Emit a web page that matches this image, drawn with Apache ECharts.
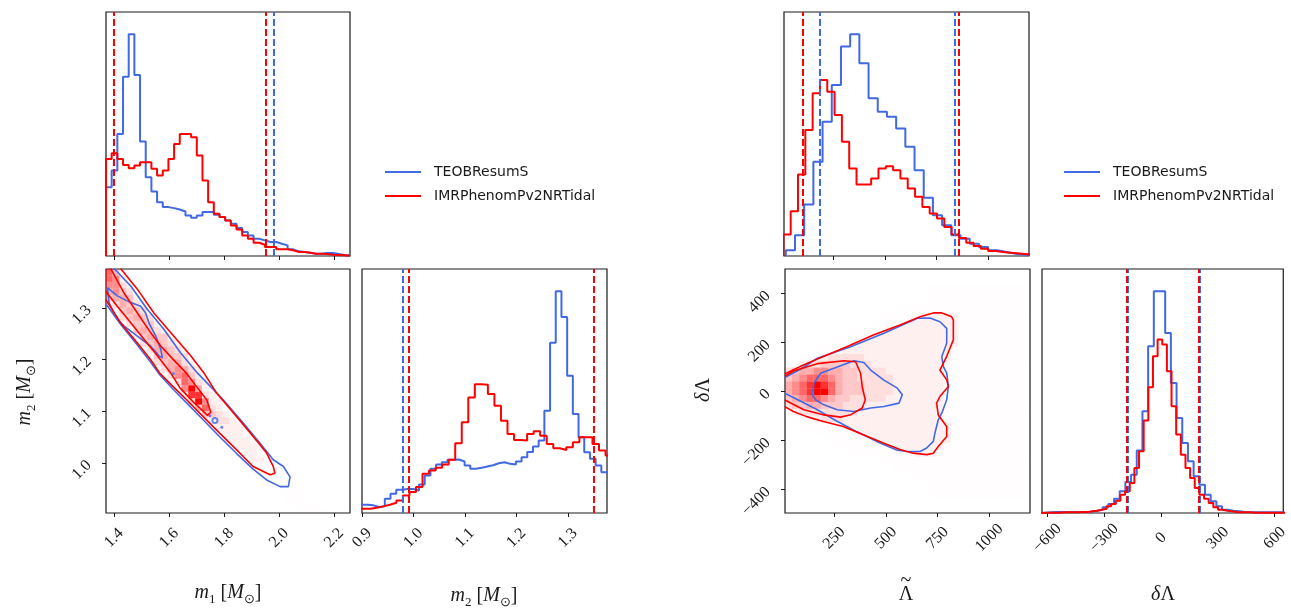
<!DOCTYPE html>
<html><head><meta charset="utf-8">
<script src="https://cdn.jsdelivr.net/npm/echarts@6/dist/echarts.min.js"></script>
<style>html,body{margin:0;padding:0;background:#fff}#c{width:1291px;height:608px}</style>
</head><body><div id="c"></div>
<script>
// ================= DATA =================
const seriesNames = ['TEOBResumS', 'IMRPhenomPv2NRTidal'];

// axis ranges and ticks
const m1Range = [1.371, 2.258];
const m2RangeHist = [0.9, 1.376];
const m2Range2D = [0.903, 1.375];
const lamRange = [11.4, 1197];
const dLamRange2D = [-495, 500];
const dLamRangeHist = [-628, 645];
const m1Ticks = [1.4, 1.6, 1.8, 2.0, 2.2];
const m2TicksHist = [0.9, 1.0, 1.1, 1.2, 1.3];
const m2Ticks2D = [1.0, 1.1, 1.2, 1.3];
const lamTicks = [250, 500, 750, 1000];
const dLamTicks2D = [-400, -200, 0, 200, 400];
const dLamTicksHist = [-600, -300, 0, 300, 600];

// m1 histograms
const m1BinStart = 1.371, m1BinWidth = 0.02063;
const m1CountsTEOB = [207,257,367,539,667,544,344,237,194,162,147,144,140,134,122,115,122,132,132,124,117,107,97,84,72,62,52,47,42,42,37,32,20,14,12,10,7,7,9,9,6,3,2];
const m1CountsIMR = [292,309,292,274,264,272,282,282,262,242,257,292,337,367,367,357,302,227,162,127,117,107,92,80,62,52,40,34,27,27,20,20,17,12,12,10,7,7,6,4,3,2,1];
const m1QuantTEOB = [1.400, 1.982];
const m1QuantIMR = [1.397, 1.945];

// m2 histograms
const m2BinStartTEOB = 0.889, m2BinWidthTEOB = 0.01107;
const m2CountsTEOB = [25,25,23,18,20,43,58,70,72,72,68,86,113,133,146,153,160,161,155,143,133,136,140,144,150,153,148,146,155,168,184,200,218,308,513,668,590,413,298,228,183,163,143,123,123];
const m2BinStartIMR = 0.8906, m2BinWidthIMR = 0.0127;
const m2CountsIMR = [13,13,16,20,25,31,38,53,63,78,118,128,136,146,160,210,273,348,388,386,358,323,278,238,220,218,238,246,233,208,195,190,198,213,228,228,208,188,173];
const m2QuantTEOB = [0.977, 1.349];
const m2QuantIMR = [0.9945, 1.353];

// Lambda-tilde histograms
const lamBinStartTEOB = 20.1, lamBinWidthTEOB = 44.5;
const lamCountsTEOB = [17,62,154,282,402,512,627,664,577,472,432,417,382,327,257,174,122,92,62,52,37,27,17,12,7,4,3];
const lamBinStartIMR = 8.4, lamBinWidthIMR = 35.4;
const lamCountsIMR = [64,134,244,377,487,527,492,422,342,262,214,214,232,262,269,257,232,202,177,147,127,112,87,64,54,40,30,22,15,12,10,8,6,4];
const lamQuantTEOB = [184, 839];
const lamQuantIMR = [100, 858];

// delta-Lambda histograms
const dLamBinStartTEOB = -638, dLamBinWidthTEOB = 30;
const dLamCountsTEOB = [1,2,3,3,3,3,3,3,4,7,10,17,27,43,65,93,115,187,305,500,665,665,540,390,285,210,155,110,85,55,35,20,10,7,5,3,2,2,2,2,2,2,2];
const dLamBinStartIMR = -630.5, dLamBinWidthIMR = 24.5;
const dLamCountsIMR = [1,1,1,1,2,2,2,2,3,3,5,7,10,13,20,27,37,55,65,90,135,185,277,377,470,520,505,425,320,235,175,135,105,75,55,43,30,17,10,7,5,3,2,2,2,1,1,1,1,1,1,1,1];
const dLamQuantTEOB = [-175, 205];
const dLamQuantIMR = [-181, 200];

// 2D density (IMRPhenomPv2NRTidal), intensity levels 0..9
const levelAlpha = [0, 0.008, 0.06, 0.13, 0.22, 0.32, 0.45, 0.6, 0.8, 1];
const leftCellM1Start = 1.37, leftCellM1Width = 0.025, leftCellM2Start = 0.90, leftCellM2Height = 0.0125;
const leftDensityCols = [
 [32,"245677"],[31,"1356664"],[29,"134554321"],[28,"134544321"],[26,"124454321"],
 [25,"134544321"],[24,"13454431"],[22,"134554321"],[21,"134554421"],[20,"135544321"],
 [19,"136654321"],[18,"267753321"],[17,"38964321"],[15,"149853221"],[14,"14763221"],
 [13,"1243221"],[12,"1233221"],[11,"1223211"],[10,"1222211"],[9,"1222211"],
 [8,"122211"],[7,"122211"],[6,"112111"],[5,"11111"],[4,"11111"],[3,"11111"],
 [2,"1111"],[1,"1111"],[0,"111"],[0,"11"],[0,"11"],[0,"1"],[0,"1"]
];
const rightCellLamStart = 10, rightCellLamWidth = 35, rightCellDLStart = -490, rightCellDLHeight = 28, rightRowStart = 2;
const rightDensityRows = [
 "0000000000000000000011111111111111",
 "0000000000000000000011111111111111",
 "0000000000000000000011111111111111",
 "0000000000000000011111111111111111",
 "0000000000000001111111111111111111",
 "0000000000000111111111111111111111",
 "0000000000111111112221111111111111",
 "0000000011111112222222111111111111",
 "0000001111112222222222211111111111",
 "0000111111222222222222211111111111",
 "0011111122222222222222211111111111",
 "0111233322222222222222111111111111",
 "1233333333222222222222111111111111",
 "3445544433322222222222111111111111",
 "4567765443333322222222111111111111",
 "5678997544433332222222111111111111",
 "5678987544433332222222111111111111",
 "4567776544333332222222111111111111",
 "3455665544333322222222111111111111",
 "1123344443332222222222111111111111",
 "0011123333322222222222211111111111",
 "0000111122222222222222211111111111",
 "0000001111222222222222221111111111",
 "0000000011112222222222221111111111",
 "0000000000111122222222221111111111",
 "0000000000001111122222221111111111",
 "0000000000000011111222221111111111",
 "0000000000000000111111111111111111",
 "0000000000000000000011111111111111",
 "0000000000000000000011111111111111",
 "0000000000000000000011111111111111"
];

// 2D contours
const leftContourIMROuter = [[1.424,1.376],[1.485,1.336],[1.545,1.290],[1.606,1.252],[1.679,1.207],[1.727,1.174],[1.773,1.135],[1.846,1.089],[1.906,1.051],[1.955,1.019],[1.979,0.993],[1.985,0.980],[1.967,0.977],[1.906,0.993],[1.846,1.025],[1.785,1.057],[1.725,1.089],[1.664,1.122],[1.616,1.147],[1.567,1.173],[1.533,1.200],[1.485,1.232],[1.424,1.271],[1.370,1.316]];
const leftContourIMRInner = [[1.388,1.376],[1.436,1.329],[1.485,1.290],[1.533,1.252],[1.570,1.226],[1.610,1.203],[1.664,1.173],[1.701,1.147],[1.737,1.122],[1.752,1.098],[1.740,1.092],[1.688,1.118],[1.640,1.145],[1.606,1.174],[1.558,1.207],[1.509,1.239],[1.461,1.271],[1.412,1.303],[1.370,1.332]];
const leftContourTEOBOuter = [[1.400,1.376],[1.461,1.342],[1.521,1.297],[1.582,1.258],[1.642,1.213],[1.703,1.174],[1.797,1.122],[1.870,1.077],[1.931,1.038],[1.979,1.006],[2.016,0.993],[2.040,0.973],[2.034,0.954],[2.004,0.954],[1.955,0.967],[1.906,0.988],[1.846,1.018],[1.785,1.050],[1.725,1.083],[1.664,1.116],[1.616,1.142],[1.567,1.170],[1.533,1.195],[1.485,1.228],[1.424,1.268],[1.370,1.308]];
const leftContourTEOBInner = [[1.376,1.339],[1.412,1.323],[1.461,1.310],[1.497,1.303],[1.515,1.290],[1.527,1.271],[1.552,1.245],[1.570,1.220],[1.576,1.203],[1.564,1.207],[1.533,1.226],[1.485,1.245],[1.436,1.265],[1.412,1.278],[1.400,1.290],[1.382,1.310],[1.376,1.339]];
const leftDotsTEOB = [[1.616,1.173],[1.749,1.091],[1.792,1.069]];
const leftRingTEOB = [[1.767,1.082]];
const rightContourIMROuter = [[10,72],[84,102],[197,143],[310,183],[439,231],[568,272],[665,305],[729,321],[770,321],[818,305],[826,292],[826,211],[794,144],[761,88],[794,48],[802,21],[761,-20],[745,-47],[753,-95],[794,-142],[794,-183],[753,-224],[729,-251],[697,-257],[632,-251],[568,-236],[487,-210],[390,-176],[293,-142],[197,-122],[116,-102],[52,-81],[10,-61]];
const rightContourTEOBOuter = [[10,57],[84,90],[168,136],[329,183],[490,238],[652,299],[713,300],[761,285],[794,258],[794,197],[770,142],[778,102],[794,75],[802,21],[794,-33],[770,-88],[753,-115],[737,-169],[729,-203],[697,-230],[665,-244],[600,-244],[552,-238],[455,-203],[358,-163],[261,-120],[168,-74],[90,-40],[10,-7]];
const rightContourIMRInner = [[10,62],[55,85],[168,114],[297,126],[353,122],[377,75],[385,20],[400,-34],[385,-67],[330,-94],[280,-104],[200,-95],[103,-74],[10,-34]];
const rightContourTEOBInner = [[143,-13],[151,34],[184,75],[248,95],[345,126],[393,119],[426,88],[490,47],[555,14],[579,-13],[563,-47],[490,-61],[426,-67],[345,-81],[264,-74],[200,-54],[160,-34],[143,-13]];

// ================= BUILD =================
const C_BLUE = '#4169e1', C_RED = '#ff0000', INK = '#1a1a1a';
const SERIF = 'Liberation Serif';

function histPoints(start, width, counts) {
  const pts = [[start, 0]];
  counts.forEach((c, i) => pts.push([start + i * width, c]));
  const end = start + counts.length * width;
  pts.push([end, counts[counts.length - 1]]);
  pts.push([end, 0]);
  return pts;
}
function histSeries(name, color, gi, start, width, counts, quant) {
  return {
    type: 'line', name, xAxisIndex: gi, yAxisIndex: gi, step: 'end',
    data: histPoints(start, width, counts), showSymbol: false, symbol: 'none',
    lineStyle: { color, width: 2 }, itemStyle: { color }, clip: true, silent: true,
    markLine: { silent: true, symbol: ['none', 'none'], label: { show: false },
      lineStyle: { color, width: 2, type: [7, 3] }, emphasis: { disabled: true },
      data: quant.map(v => ({ xAxis: v })) }
  };
}
function contourSeries(name, color, gi, pts) {
  return { type: 'line', name, xAxisIndex: gi, yAxisIndex: gi, data: pts, showSymbol: false, symbol: 'none',
    lineStyle: { color, width: 1.6 }, itemStyle: { color }, clip: true, silent: true };
}
function densitySeries(gi, cells) {
  return {
    type: 'custom', xAxisIndex: gi, yAxisIndex: gi, clip: true, silent: true, data: cells,
    renderItem: function (params, api) {
      const x = api.value(0), y = api.value(1), a = api.value(2), w = api.value(3), h = api.value(4);
      const p0 = api.coord([x, y + h]), p1 = api.coord([x + w, y]);
      return { type: 'rect', shape: { x: p0[0], y: p0[1], width: p1[0] - p0[0], height: p1[1] - p0[1] },
        style: { fill: 'rgba(255,0,0,' + a + ')' } };
    }
  };
}
const leftCells = [];
leftDensityCols.forEach((col, i) => {
  const r0 = col[0], s = col[1];
  for (let k = 0; k < s.length; k++) {
    const lv = +s[k]; if (!lv) continue;
    leftCells.push([leftCellM1Start + i * leftCellM1Width, leftCellM2Start + (r0 + k) * leftCellM2Height, levelAlpha[lv], leftCellM1Width, leftCellM2Height]);
  }
});
const rightCells = [];
rightDensityRows.forEach((s, idx) => {
  const r = rightRowStart + idx;
  for (let j = 0; j < s.length; j++) {
    const lv = +s[j]; if (!lv) continue;
    rightCells.push([rightCellLamStart + j * rightCellLamWidth, rightCellDLStart + r * rightCellDLHeight, levelAlpha[lv], rightCellLamWidth, rightCellDLHeight]);
  }
});

const fmt1 = v => Number(v).toFixed(1);
const fmtInt = v => String(Math.round(v)).replace('-', '\u2212');
function xAxis(gi, range, ticks, showLabels, fmt) {
  return {
    type: 'value', gridIndex: gi, min: range[0], max: range[1], splitLine: { show: false },
    axisLine: { show: false, onZero: false },
    axisTick: { show: true, inside: false, length: 4, lineStyle: { color: INK, width: 1 }, customValues: ticks },
    axisLabel: showLabels ? { show: true, customValues: ticks, rotate: 45, align: 'center', verticalAlign: 'middle', margin: 25,
      fontFamily: SERIF, fontSize: 16, color: INK, formatter: fmt } : { show: false }
  };
}
function yAxisHist(gi, maxCount) {
  return { type: 'value', gridIndex: gi, min: 0, max: maxCount * 1.1, splitLine: { show: false },
    axisLine: { show: false, onZero: false }, axisTick: { show: false }, axisLabel: { show: false } };
}
function yAxis2D(gi, range, ticks, fmt) {
  return { type: 'value', gridIndex: gi, min: range[0], max: range[1], splitLine: { show: false },
    axisLine: { show: false, onZero: false },
    axisTick: { show: true, inside: false, length: 4, lineStyle: { color: INK, width: 1 }, customValues: ticks },
    axisLabel: { show: true, customValues: ticks, rotate: 45, margin: 17, fontFamily: SERIF, fontSize: 16, color: INK, formatter: fmt } };
}

const gridBase = { show: true, borderColor: INK, borderWidth: 1.2, backgroundColor: 'transparent', containLabel: false };
const grids = [
  Object.assign({ left: 106, top: 12, width: 244, height: 244 }, gridBase),
  Object.assign({ left: 106, top: 269, width: 244, height: 244 }, gridBase),
  Object.assign({ left: 362, top: 269, width: 245, height: 244 }, gridBase),
  Object.assign({ left: 784, top: 12, width: 245, height: 244 }, gridBase),
  Object.assign({ left: 785, top: 269, width: 245, height: 244 }, gridBase),
  Object.assign({ left: 1042, top: 269, width: 244, height: 244 }, gridBase)
];

const rich = {
  it: { fontFamily: SERIF, fontStyle: 'italic', fontSize: 20, lineHeight: 26, verticalAlign: 'middle', fill: INK },
  rm: { fontFamily: SERIF, fontSize: 20, lineHeight: 26, verticalAlign: 'middle', fill: INK },
  sub: { fontFamily: SERIF, fontSize: 13, verticalAlign: 'bottom', fill: INK }
};
function title(x, y, text, rot) {
  return { type: 'text', x, y, rotation: rot || 0, silent: true,
    style: { text, rich, align: 'center', verticalAlign: 'middle', fill: INK, font: '20px ' + SERIF } };
}

const legendBase = {
  data: seriesNames, orient: 'vertical', icon: 'rect', itemWidth: 36, itemHeight: 2, itemGap: 8, selectedMode: false,
  textStyle: { fontFamily: 'DejaVu Sans', fontSize: 14, color: INK, lineHeight: 16, padding: [0, 0, 0, 8] }
};

const option = {
  animation: false,
  backgroundColor: '#fff',
  grid: grids,
  legend: [Object.assign({ left: 380, top: 159 }, legendBase), Object.assign({ left: 1059, top: 159 }, legendBase)],
  xAxis: [
    xAxis(0, m1Range, m1Ticks, false),
    xAxis(1, m1Range, m1Ticks, true, fmt1),
    xAxis(2, m2RangeHist, m2TicksHist, true, fmt1),
    xAxis(3, lamRange, lamTicks, false),
    xAxis(4, lamRange, lamTicks, true, fmtInt),
    xAxis(5, dLamRangeHist, dLamTicksHist, true, fmtInt)
  ],
  yAxis: [
    yAxisHist(0, Math.max(...m1CountsTEOB)),
    yAxis2D(1, m2Range2D, m2Ticks2D, fmt1),
    yAxisHist(2, Math.max(...m2CountsTEOB)),
    yAxisHist(3, Math.max(...lamCountsTEOB)),
    yAxis2D(4, dLamRange2D, dLamTicks2D, fmtInt),
    yAxisHist(5, Math.max(...dLamCountsTEOB))
  ],
  series: [
    histSeries(seriesNames[0], C_BLUE, 0, m1BinStart, m1BinWidth, m1CountsTEOB, m1QuantTEOB),
    histSeries(seriesNames[1], C_RED, 0, m1BinStart, m1BinWidth, m1CountsIMR, m1QuantIMR),
    densitySeries(1, leftCells),
    contourSeries(seriesNames[0], C_BLUE, 1, leftContourTEOBOuter),
    contourSeries(seriesNames[0], C_BLUE, 1, leftContourTEOBInner),
    { type: 'scatter', xAxisIndex: 1, yAxisIndex: 1, data: leftDotsTEOB, symbol: 'circle', symbolSize: 3, itemStyle: { color: C_BLUE }, silent: true },
    { type: 'scatter', xAxisIndex: 1, yAxisIndex: 1, data: leftRingTEOB, symbol: 'emptyCircle', symbolSize: 5, itemStyle: { color: C_BLUE, borderColor: C_BLUE, borderWidth: 1.2 }, silent: true },
    contourSeries(seriesNames[1], C_RED, 1, leftContourIMROuter),
    contourSeries(seriesNames[1], C_RED, 1, leftContourIMRInner),
    histSeries(seriesNames[0], C_BLUE, 2, m2BinStartTEOB, m2BinWidthTEOB, m2CountsTEOB, m2QuantTEOB),
    histSeries(seriesNames[1], C_RED, 2, m2BinStartIMR, m2BinWidthIMR, m2CountsIMR, m2QuantIMR),
    histSeries(seriesNames[0], C_BLUE, 3, lamBinStartTEOB, lamBinWidthTEOB, lamCountsTEOB, lamQuantTEOB),
    histSeries(seriesNames[1], C_RED, 3, lamBinStartIMR, lamBinWidthIMR, lamCountsIMR, lamQuantIMR),
    densitySeries(4, rightCells),
    contourSeries(seriesNames[0], C_BLUE, 4, rightContourTEOBOuter),
    contourSeries(seriesNames[0], C_BLUE, 4, rightContourTEOBInner),
    contourSeries(seriesNames[1], C_RED, 4, rightContourIMROuter),
    contourSeries(seriesNames[1], C_RED, 4, rightContourIMRInner),
    histSeries(seriesNames[0], C_BLUE, 5, dLamBinStartTEOB, dLamBinWidthTEOB, dLamCountsTEOB, dLamQuantTEOB),
    histSeries(seriesNames[1], C_RED, 5, dLamBinStartIMR, dLamBinWidthIMR, dLamCountsIMR, dLamQuantIMR)
  ],
  graphic: [
    title(228, 593, '{it|m}{sub|1}{rm| [}{it|M}{sub|\u2299}{rm|]}'),
    title(484, 596, '{it|m}{sub|2}{rm| [}{it|M}{sub|\u2299}{rm|]}'),
    title(25, 392, '{it|m}{sub|2}{rm| [}{it|M}{sub|\u2299}{rm|]}', Math.PI / 2),
    title(906, 595, '{rm|\u039B}'),
    title(906, 581, '{rm|~}'),
    title(704, 390, '{it|\u03B4}{rm|\u039B}', Math.PI / 2),
    title(1163, 595, '{it|\u03B4}{rm|\u039B}')
  ]
};
const chart = echarts.init(document.getElementById('c'), null, { renderer: 'canvas' });
chart.setOption(option);
</script>
</body></html>
